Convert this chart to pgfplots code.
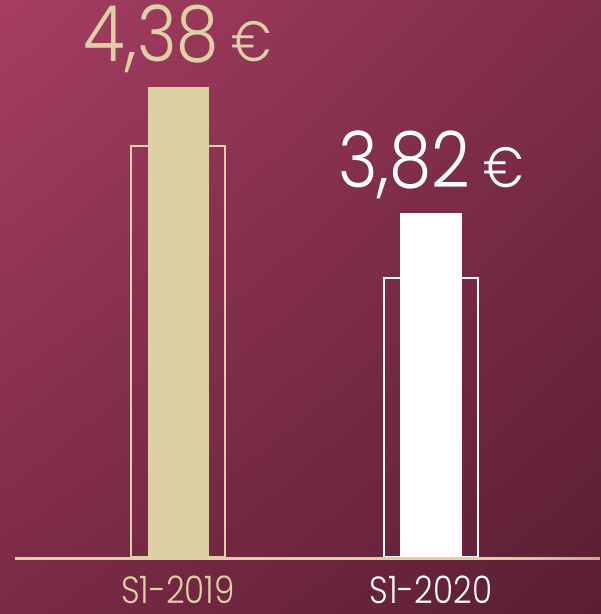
\documentclass[border=0pt]{standalone}
\usepackage{pgfplots}
\pgfplotsset{compat=1.18}
\usepackage{fontspec}
\setmainfont{Poppins}[UprightFont=* Light, FakeStretch=0.85]
\newfontfamily\numfont{Poppins}[UprightFont=* Light, FakeStretch=0.87]
\newfontfamily\tickfont{Poppins}[UprightFont=* Light, FakeStretch=0.86]
\usetikzlibrary{fadings,shadings}
\definecolor{beige}{HTML}{DED0A5}
\definecolor{bgA}{HTML}{A63E62}
\definecolor{bgB}{HTML}{5A1E31}
\definecolor{bgC}{HTML}{7E2D4A}
\definecolor{bgD}{HTML}{7A2A46}
\pgfdeclarehorizontalshading{lfs}{100bp}{color(0bp)=(black); color(25bp)=(black); color(34bp)=(white); color(58bp)=(white); color(75bp)=(black!70); color(100bp)=(black)}
\pgfdeclarefading{linefade}{\tikz\shade[shading=lfs] (0,0) rectangle (100bp,100bp);}
\begin{document}
\begin{tikzpicture}[x=1bp,y=1bp]
\shade[upper left=bgA, lower right=bgB, upper right=bgC, lower left=bgD] (0,0) rectangle (601,614);
\fill[beige, path fading=linefade] (15,54) rectangle (601,57);
\begin{axis}[
  at={(0,57bp)}, anchor=south west, scale only axis,
  width=601bp, height=557bp,
  xmin=-0.70356, xmax=1.67194, ymin=2.291, ymax=4.7666,
  axis line style={draw=none}, major tick length=0pt,
  ytick=\empty, xtick={0,1},
  xticklabels={\textcolor{beige}{S1-2019},\textcolor{white}{S1-2020}},
  xticklabel style={anchor=base, inner sep=0pt, yshift=-46bp, font=\tickfont\fontsize{38}{38}\selectfont},
]
\addplot[ybar, bar width=94bp, bar shift=0pt, draw=beige, line width=2bp, fill=none] coordinates {(0,4.118)};
\addplot[ybar, bar width=94bp, bar shift=0pt, draw=white, line width=2bp, fill=none] coordinates {(1,3.531)};
\addplot[ybar, bar width=61bp, bar shift=0pt, fill=beige, draw=none,
  nodes near coords={\numfont\fontsize{78}{78}\selectfont 4,38\,{\fontsize{57}{57}\selectfont €}},
  nodes near coords style={anchor=base, yshift=25bp, text=beige, inner sep=0pt}] coordinates {(0,4.38)};
\addplot[ybar, bar width=62bp, bar shift=0pt, fill=white, draw=none,
  nodes near coords={\numfont\fontsize{78}{78}\selectfont 3,82\,{\fontsize{57}{57}\selectfont €}},
  nodes near coords style={anchor=base, yshift=25bp, text=white, inner sep=0pt}] coordinates {(1,3.82)};
\end{axis}
\pgfresetboundingbox
\useasboundingbox (0,0) rectangle (601,614);
\end{tikzpicture}
\end{document}
